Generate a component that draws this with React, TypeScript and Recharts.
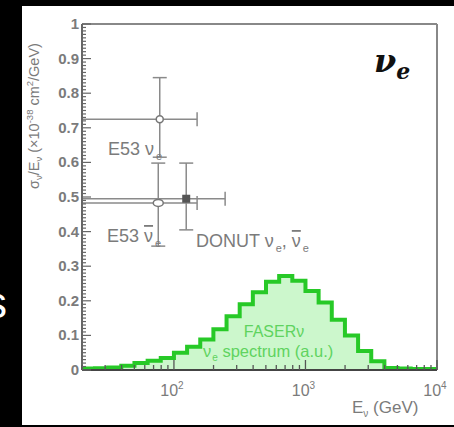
import { Area, ComposedChart, ErrorBar, ReferenceLine, Scatter, XAxis, YAxis } from "recharts";

// FASERnu nu_e spectrum, 0.1-decade bins (GeV)
const binEdges = [
  20, 25.1, 31.6, 39.8, 50.1, 63.1, 79.4, 100, 125.9, 158.5, 199.5, 251.2, 316.2, 398.1, 501.2, 631, 794.3,
  1000, 1258.9, 1584.9, 1995.3, 2511.9, 3162.3, 3981.1, 5011.9, 6309.6, 7943.3, 10000
];
const binHeights = [
  0.004, 0.005, 0.007, 0.012, 0.02, 0.027, 0.035, 0.05, 0.067, 0.088, 0.118, 0.155, 0.19, 0.225, 0.255,
  0.272, 0.258, 0.228, 0.195, 0.145, 0.1, 0.055, 0.025, 0.006, 0.004, 0.003, 0.003
];

// measurements: energy, sigma/E, x error [low, high], y error [low, high]
const e53Nu = [{ E: 78, v: 0.725, ex: [58, 72], ey: [0.11, 0.12] }];
const e53NuBar = [{ E: 76, v: 0.483, ex: [56, 74], ey: [0.125, 0.115] }];
const donut = [{ E: 124, v: 0.495, ex: [104, 121], ey: [0.09, 0.103] }];

const xTicks = [
  20, 30, 40, 50, 60, 70, 80, 90, 100, 200, 300, 400, 500, 600, 700, 800, 900, 1000, 2000, 3000, 4000, 5000,
  6000, 7000, 8000, 9000, 10000
];
const xMajor: Record<number, string> = { 100: "2", 1000: "3", 10000: "4" };
const yLabels = ["0", "0.1", "0.2", "0.3", "0.4", "0.5", "0.6", "0.7", "0.8", "0.9", "1"];
const yTicks = Array.from({ length: 101 }, (_, i) => i / 100);

const histogram = binEdges.map((E, i) => ({ E, v: binHeights[Math.min(i, binHeights.length - 1)] }));

const PLOT_LEFT = 82;
const PLOT_BOTTOM = 370;
const GREY = "#7b7b7b";
const FONT = "'Liberation Sans', Arial, sans-serif";

function YTick(p: any) {
  const idx = Math.round(p.payload.value * 100);
  const major = idx % 10 === 0;
  return (
    <g>
      <line x1={PLOT_LEFT} x2={PLOT_LEFT + (major ? 9 : 4)} y1={p.y} y2={p.y} stroke="#666" strokeWidth={1.2} />
      {major && (
        <text x={PLOT_LEFT - 3} y={p.y + 5} textAnchor="end" fontSize={15} fontWeight="bold" fill={GREY} fontFamily={FONT}>
          {yLabels[idx / 10]}
        </text>
      )}
    </g>
  );
}

function XTick(p: any) {
  const v = p.payload.value;
  const exp = xMajor[v];
  return (
    <g>
      <line x1={p.x} x2={p.x} y1={PLOT_BOTTOM} y2={PLOT_BOTTOM - (exp ? 10 : 5)} stroke="#555" strokeWidth={1.3} />
      {exp && (
        <text x={p.x - 2} y={PLOT_BOTTOM + 26} textAnchor="middle" fontSize={16} fill={GREY} fontFamily={FONT}>
          10<tspan dy={-7} fontSize={10}>{exp}</tspan>
        </text>
      )}
    </g>
  );
}

const openCircle = (p: any) => <circle cx={p.cx} cy={p.cy} r={3.5} fill="#fff" stroke="#777" strokeWidth={1.5} />;
const openOval = (p: any) => <ellipse cx={p.cx} cy={p.cy} rx={5} ry={3.5} fill="#fff" stroke="#777" strokeWidth={1.5} />;
const filledSquare = (p: any) => <rect x={p.cx - 4} y={p.cy - 4} width={8} height={8} fill="#555" />;

export default function App() {
  return (
    <div style={{ position: "absolute", left: 0, top: 0, width: 454, height: 427, background: "#000", overflow: "hidden" }}>
      <div style={{ position: "absolute", left: 22, top: 6, width: 432, height: 419, background: "#fff" }} />
      <div style={{ position: "absolute", left: 0, top: 0 }}>
        <ComposedChart width={454} height={427} data={histogram} margin={{ top: 24, right: 17, bottom: 27, left: 22 }}>
          <XAxis
            dataKey="E"
            type="number"
            scale="log"
            domain={[20, 10000]}
            allowDataOverflow
            ticks={xTicks}
            interval={0}
            tick={XTick}
            tickLine={false}
            height={30}
            axisLine={{ stroke: "#444", strokeWidth: 2 }}
          />
          <YAxis
            type="number"
            domain={[0, 1]}
            ticks={yTicks}
            interval={0}
            tick={YTick}
            tickLine={false}
            width={60}
            axisLine={{ stroke: "#666", strokeWidth: 2 }}
          />
          <ReferenceLine y={1} stroke="#888" strokeWidth={2} />
          <ReferenceLine x={10000} stroke="#888" strokeWidth={2} />
          <Area
            type="stepAfter"
            dataKey="v"
            stroke="#27c927"
            strokeWidth={4}
            fill="#ccf7cc"
            fillOpacity={1}
            isAnimationActive={false}
          />
          <Scatter data={e53Nu} dataKey="v" shape={openCircle} isAnimationActive={false}>
            <ErrorBar dataKey="ex" direction="x" width={7} stroke="#8a8a8a" strokeWidth={1.5} />
            <ErrorBar dataKey="ey" direction="y" width={7} stroke="#8a8a8a" strokeWidth={1.5} />
          </Scatter>
          <Scatter data={e53NuBar} dataKey="v" shape={openOval} isAnimationActive={false}>
            <ErrorBar dataKey="ex" direction="x" width={7} stroke="#8a8a8a" strokeWidth={1.5} />
            <ErrorBar dataKey="ey" direction="y" width={7} stroke="#8a8a8a" strokeWidth={1.5} />
          </Scatter>
          <Scatter data={donut} dataKey="v" shape={filledSquare} isAnimationActive={false}>
            <ErrorBar dataKey="ex" direction="x" width={7} stroke="#8a8a8a" strokeWidth={1.5} />
            <ErrorBar dataKey="ey" direction="y" width={7} stroke="#8a8a8a" strokeWidth={1.5} />
          </Scatter>
        </ComposedChart>
      </div>
      <svg width={454} height={427} style={{ position: "absolute", left: 0, top: 0, pointerEvents: "none" }} fontFamily={FONT}>
        <text x={7} y={318} textAnchor="end" fontSize={44} fill="#fff">s</text>
        <text transform="translate(39,116) rotate(-90)" textAnchor="middle" fontSize={14.5} fill={GREY}>
          σ<tspan dy={3} fontSize={9.5}>ν</tspan>
          <tspan dy={-3}>/E</tspan>
          <tspan dy={3} fontSize={9.5}>ν</tspan>
          <tspan dy={-3}> (×10</tspan>
          <tspan dy={-6} fontSize={9.5}>-38</tspan>
          <tspan dy={6}> cm</tspan>
          <tspan dy={-6} fontSize={9.5}>2</tspan>
          <tspan dy={6}>/GeV)</tspan>
        </text>
        <text x={352} y={413} fontSize={17} fill={GREY}>
          E<tspan dy={4} fontSize={10}>ν</tspan>
          <tspan dy={-4}> (GeV)</tspan>
        </text>
        <text x={108} y={155} fontSize={18} fill={GREY}>
          E53 ν<tspan dx={2} dy={5} fontSize={11}>e</tspan>
        </text>
        <text x={107} y={242} fontSize={18} fill={GREY}>
          E53 <tspan textDecoration="overline">ν</tspan>
          <tspan dx={2} dy={5} fontSize={11}>e</tspan>
        </text>
        <text x={196} y={247} fontSize={18} fill={GREY}>
          DONUT ν<tspan dx={2} dy={5} fontSize={11}>e</tspan>
          <tspan dy={-5}>, </tspan>
          <tspan textDecoration="overline">ν</tspan>
          <tspan dx={2} dy={5} fontSize={11}>e</tspan>
        </text>
        <text x={274} y={337} textAnchor="middle" fontSize={16} fill="#5fd35f">FASERν</text>
        <text x={203} y={357} fontSize={16.5} fill="#5fd35f">
          ν<tspan dx={1} dy={4} fontSize={10}>e</tspan>
          <tspan dy={-4}> spectrum (a.u.)</tspan>
        </text>
        <text x={374} y={72} fontSize={32} fontWeight="bold" fontStyle="italic" fontFamily="'DejaVu Serif', 'Liberation Serif', serif" fill="#111">
          ν<tspan dy={7} fontSize={22}>e</tspan>
        </text>
      </svg>
    </div>
  );
}
